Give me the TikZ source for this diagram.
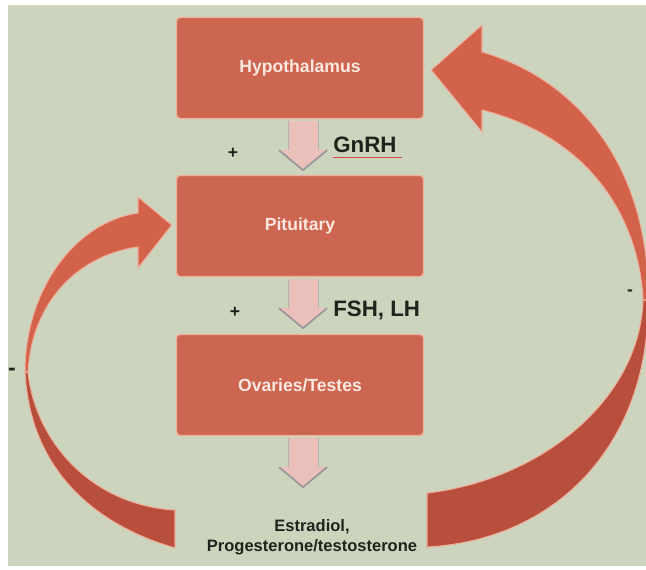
\documentclass[tikz,border=0pt]{standalone}
\usepackage{fontspec}
\setmainfont{Liberation Sans}
\usetikzlibrary{calc}

\definecolor{bgsage}{RGB}{205,212,190}
\definecolor{boxred}{RGB}{205,102,80}
\definecolor{arrfront}{RGB}{210,98,74}
\definecolor{arrback}{RGB}{184,78,60}
\definecolor{glow}{RGB}{238,175,155}
\definecolor{pale}{RGB}{236,192,186}
\definecolor{ink}{RGB}{28,36,28}
\definecolor{boxtext}{RGB}{252,232,224}
\definecolor{squiggle}{RGB}{215,70,70}

\begin{document}
\begin{tikzpicture}[x=0.02cm, y=-0.02cm,
    organ/.style={draw=glow, line width=0.8pt, fill=boxred, rounded corners=2pt,
      minimum width=4.94cm, minimum height=2.02cm, text=boxtext,
      font=\bfseries\fontsize{10}{12}\selectfont},
    hormone/.style={text=ink, anchor=west, inner sep=0pt,
      font=\bfseries\fontsize{12.7}{14}\selectfont},
    sign/.style={text=ink, inner sep=0pt, font=\bfseries\fontsize{10}{10}\selectfont},
    loopfront/.style={fill=arrfront, draw=glow, line width=0.6pt, line join=round},
    loopback/.style={fill=arrback, draw=glow, line width=0.6pt, line join=round}]
    \useasboundingbox (0,0) rectangle (646,570);
    \fill[bgsage] (8,5) rectangle (646,566);

    % ---- the three glands
    \node[organ] (hyp) at (300, 68) {Hypothalamus};
    \node[organ] (pit) at (300,226) {Pituitary};
    \node[organ] (ova) at (300,385) {Ovaries/Testes};
    \node[text=ink, align=center, font=\bfseries\fontsize{9.4}{11.3}\selectfont]
      (est) at (312,537) {Estradiol,\\Progesterone/testosterone};

    % ---- downward block arrows below each box
    \foreach \u in {hyp,pit,ova}
    {
      \begin{scope}[shift={($(\u.south)+(3,2)$)}]
        \fill[pale] (-15,0) -- (15,0) -- (15,29) -- (24,29) -- (0,49)
          -- (-24,29) -- (-15,29) -- cycle;
        \draw[gray!60, line width=0.4pt] (-15,0) -- (-15,29) (15,0) -- (15,29);
        \draw[gray!80, line width=1pt, line join=round] (-24,29) -- (0,49) -- (24,29);
      \end{scope}
    }

    % ---- hormone labels and signs
    \node[sign] (p1) at (233,153) {+};
    \node[hormone] (gnrh) at (333,145) {GnRH};
    \draw[squiggle, line width=0.6pt]
      ($(gnrh.south west)+(0,4)$) -- ($(gnrh.south east)+(5,4)$);
    \node[sign] (p2) at (235,312) {+};
    \node[hormone] (fsh) at (333,310) {FSH, LH};
    \node[sign, font=\bfseries\fontsize{13}{13}\selectfont] (m1) at (12,372) {-};
    \node[sign] (m2) at (630,293) {-};

    % ---- left loop : ovaries back to pituitary
    \coordinate (ltip) at ($(pit.west)+(-4,-1)$);
    \fill[loopback] (175,548) .. controls (95,525) and (30,470) .. (25,372)
      -- (28,372) .. controls (35,440) and (90,505) .. (175,510) -- cycle;
    \fill[loopfront] (25,372) .. controls (25,290) and (75,222) .. (138,213)
      -- (138,197) -- (ltip) -- (138,268) -- (138,247)
      .. controls (80,255) and (32,300) .. (28,372) -- cycle;

    % ---- right loop : ovaries back to hypothalamus
    \coordinate (rtip) at ($(hyp.east)+(7,2)$);
    \fill[loopback] (648,300) .. controls (650,440) and (560,540) .. (427,547)
      -- (427,493) .. controls (540,480) and (640,400) .. (643,300) -- cycle;
    \fill[loopfront] (648,300) .. controls (650,170) and (580,80) .. (482,52)
      -- (482,25) -- (rtip) -- (482,132) -- (482,110)
      .. controls (600,140) and (640,230) .. (643,300) -- cycle;
  \end{tikzpicture}
\end{document}
